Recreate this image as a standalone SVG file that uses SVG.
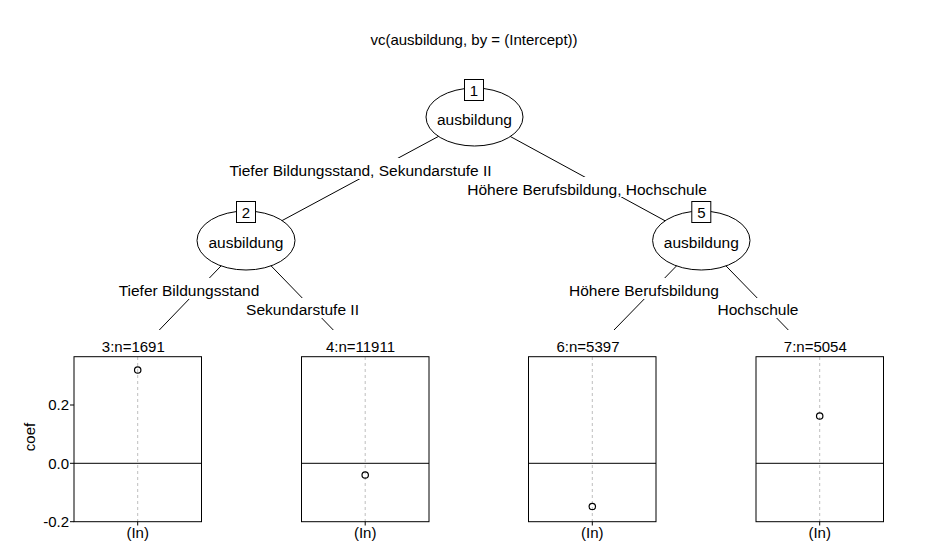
<svg xmlns="http://www.w3.org/2000/svg" width="948" height="560" viewBox="0 0 948 560">
<style>
text{font-family:"Liberation Sans",Arial,sans-serif;font-size:15px;fill:#000;text-anchor:middle}
.lbl{font-size:15.5px}
.edge{stroke:#000;stroke-width:1;fill:none}
.ell{fill:#fff;stroke:#000;stroke-width:1}
.box{fill:#fff;stroke:#000;stroke-width:1}
.bg{fill:#fff;stroke:none}
.panel{fill:none;stroke:#000;stroke-width:1}
.grid{stroke:#bebebe;stroke-width:1;stroke-dasharray:3 3}
.zero{stroke:#000;stroke-width:1}
.pt{fill:none;stroke:#000;stroke-width:1.2}
.tick{stroke:#000;stroke-width:1}
</style>
<rect width="948" height="560" fill="#fff"/>
<text x="474" y="45">vc(ausbildung, by = (Intercept))</text>
<g id="connectors">
<line class="edge" x1="474.5" y1="117" x2="246" y2="240"/>
<line class="edge" x1="474.5" y1="117" x2="701.3" y2="240.5"/>
<line class="edge" x1="246" y1="240" x2="159.3" y2="330"/>
<line class="edge" x1="246" y1="240" x2="333.3" y2="330"/>
<line class="edge" x1="701.3" y1="240.5" x2="614" y2="330"/>
<line class="edge" x1="701.3" y1="240.5" x2="788.3" y2="330"/>
<rect class="bg" x="229" y="158" width="263" height="21"/>
<text class="lbl" x="360.5" y="176">Tiefer Bildungsstand, Sekundarstufe II</text>
<rect class="bg" x="467" y="177" width="240" height="20"/>
<text class="lbl" x="587" y="195">Höhere Berufsbildung, Hochschule</text>
<rect class="bg" x="117" y="278" width="144" height="21"/>
<text class="lbl" x="189" y="295.5">Tiefer Bildungsstand</text>
<rect class="bg" x="247" y="298" width="111" height="20"/>
<text class="lbl" x="302.5" y="315">Sekundarstufe II</text>
<rect class="bg" x="568" y="278" width="152" height="21"/>
<text class="lbl" x="644" y="295.5">Höhere Berufsbildung</text>
<rect class="bg" x="717" y="298" width="82" height="20"/>
<text class="lbl" x="758" y="315">Hochschule</text>
</g>
<g id="node1">
<ellipse class="ell" cx="474.5" cy="117" rx="48.5" ry="29"/>
<text class="lbl" x="474.5" y="124.5">ausbildung</text>
<rect class="box" x="464.5" y="79.5" width="19" height="21"/>
<text x="474" y="96">1</text>
</g>
<g id="node2">
<ellipse class="ell" cx="246" cy="240.5" rx="49" ry="29.5"/>
<text class="lbl" x="246" y="247.5">ausbildung</text>
<rect class="box" x="236.5" y="201.5" width="19" height="21"/>
<text x="246" y="218">2</text>
</g>
<g id="node5">
<ellipse class="ell" cx="701.3" cy="240.5" rx="48.7" ry="29.5"/>
<text class="lbl" x="701.3" y="247.5">ausbildung</text>
<rect class="box" x="691.8" y="201.5" width="19" height="21"/>
<text x="701.3" y="218">5</text>
</g>
<g id="node3">
<text x="133.3" y="352">3:n=1691</text>
<line class="grid" x1="137.7" y1="357" x2="137.7" y2="521.7"/>
<line class="zero" x1="74" y1="463.3" x2="201.5" y2="463.3"/>
<rect class="panel" x="74" y="356.7" width="127.5" height="165"/>
<circle class="pt" cx="137.7" cy="370" r="3.2"/>
<line class="tick" x1="137.7" y1="521.7" x2="137.7" y2="525.5"/>
<text x="137.7" y="538">(In)</text>
<line class="tick" x1="70" y1="405" x2="74" y2="405"/>
<line class="tick" x1="70" y1="463.3" x2="74" y2="463.3"/>
<line class="tick" x1="70" y1="521.7" x2="74" y2="521.7"/>
<text x="69" y="410" style="text-anchor:end">0.2</text>
<text x="69" y="468.5" style="text-anchor:end">0.0</text>
<text x="69" y="527" style="text-anchor:end">-0.2</text>
<text transform="translate(35,437) rotate(-90)">coef</text>
</g>
<g id="node4">
<text x="360.5" y="352">4:n=11911</text>
<line class="grid" x1="365.2" y1="357" x2="365.2" y2="521.7"/>
<line class="zero" x1="301.5" y1="463.3" x2="429" y2="463.3"/>
<rect class="panel" x="301.5" y="356.7" width="127.5" height="165"/>
<circle class="pt" cx="365.2" cy="475" r="3.2"/>
<line class="tick" x1="365.2" y1="521.7" x2="365.2" y2="525.5"/>
<text x="365.2" y="538">(In)</text>
</g>
<g id="node6">
<text x="588" y="352">6:n=5397</text>
<line class="grid" x1="592.3" y1="357" x2="592.3" y2="521.7"/>
<line class="zero" x1="528.5" y1="463.3" x2="656" y2="463.3"/>
<rect class="panel" x="528.5" y="356.7" width="127.5" height="165"/>
<circle class="pt" cx="592.3" cy="506.5" r="3.2"/>
<line class="tick" x1="592.3" y1="521.7" x2="592.3" y2="525.5"/>
<text x="592.3" y="538">(In)</text>
</g>
<g id="node7">
<text x="815.3" y="352">7:n=5054</text>
<line class="grid" x1="819.7" y1="357" x2="819.7" y2="521.7"/>
<line class="zero" x1="756" y1="463.3" x2="883.5" y2="463.3"/>
<rect class="panel" x="756" y="356.7" width="127.5" height="165"/>
<circle class="pt" cx="819.7" cy="416" r="3.2"/>
<line class="tick" x1="819.7" y1="521.7" x2="819.7" y2="525.5"/>
<text x="819.7" y="538">(In)</text>
</g>
</svg>
